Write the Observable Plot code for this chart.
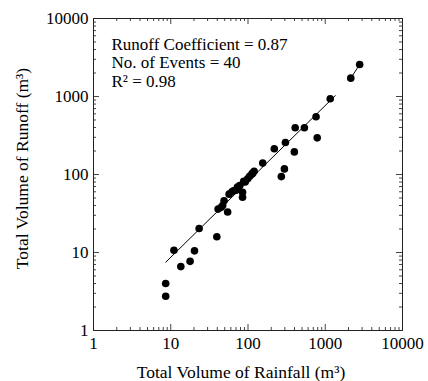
<!DOCTYPE html>
<html><head><meta charset="utf-8">
<script src="https://cdn.jsdelivr.net/npm/d3@7"></script>
<script src="https://cdn.jsdelivr.net/npm/@observablehq/plot@0.6"></script>
<style>
body{margin:0;background:#fff}
svg text, svg tspan{font-family:"Liberation Serif", serif !important;}
</style>
</head><body><div id="chart"></div>
<script>
// Rainfall volume (m³) and runoff volume (m³) per event
const rainfall = [8.6, 8.6, 11, 13.5, 17.8, 20.3, 23.3, 39.5, 41, 45, 47, 49, 54.5, 57, 62, 65, 70, 73, 78, 85, 85, 88, 92, 99, 105, 112, 115, 120, 155, 219, 270, 296, 305, 398, 408, 537, 787, 760, 1160, 2140, 2790];
const runoff   = [4.0, 2.75, 10.7, 6.6, 7.7, 10.5, 20.3, 15.9, 36, 38, 40, 46, 33, 56, 60, 62, 63, 69, 72, 59, 51, 82, 80, 88, 95, 101, 104, 110, 140, 214, 94, 118, 257, 195, 397, 397, 295, 550, 935, 1718, 2570];
// fitted line (two drawn segments)
const fitX1 = [8.6, 1350];
const fitY1 = [7.5, 1025];
const fitX2 = [2140, 2790];
const fitY2 = [1718, 2570];
const majorTicks = [1, 10, 100, 1000, 10000];
const minorSteps = [2, 3, 4, 5, 6, 7, 8, 9];
const minorTicks = majorTicks.slice(0, -1).flatMap(d => minorSteps.map(k => d * k));
const annotation = ["Runoff Coefficient = 0.87", "No. of Events = 40", "R² = 0.98"];
const xLabel = "Total Volume of Rainfall (m³)";
const yLabel = "Total Volume of Runoff (m³)";

const W = 428, H = 381, ML = 93, MR = 26, MT = 18, MB = 51;
const innerW = W - ML - MR, innerH = H - MT - MB;
const major = 6, minor = 3;
const tickStroke = "#444";
const serif = "Liberation Serif";
const chart = Plot.plot({
  width: W, height: H,
  marginLeft: ML, marginRight: MR, marginTop: MT, marginBottom: MB,
  style: {fontFamily: serif, fontSize: "17px", color: "#000", background: "#fff"},
  x: {type: "log", domain: [1, 10000]},
  y: {type: "log", domain: [1, 10000]},
  marks: [
    // tick labels
    Plot.axisX(majorTicks, {anchor: "bottom", tickSize: 0, tickPadding: 6, tickFormat: d => String(d), label: null}),
    Plot.axisY(majorTicks, {anchor: "left", tickSize: 0, tickPadding: 5, tickFormat: d => String(d), label: null}),
    // axis titles
    Plot.text([xLabel], {text: d => d, frameAnchor: "bottom", textAnchor: "middle", lineAnchor: "middle", dx: -7, dy: 42, fontSize: 17.5, fill: "#000"}),
    Plot.text([yLabel], {text: d => d, frameAnchor: "left", rotate: -90, textAnchor: "middle", lineAnchor: "middle", dx: -71, dy: -6, fontSize: 17.5, fill: "#000"}),
    // inward ticks on all four sides
    Plot.tickX(majorTicks, {x: d => d, insetTop: innerH - major, stroke: tickStroke}),
    Plot.tickX(minorTicks, {x: d => d, insetTop: innerH - minor, stroke: tickStroke}),
    Plot.tickX(majorTicks, {x: d => d, insetBottom: innerH - major, stroke: tickStroke}),
    Plot.tickX(minorTicks, {x: d => d, insetBottom: innerH - minor, stroke: tickStroke}),
    Plot.tickY(majorTicks, {y: d => d, insetRight: innerW - major, stroke: tickStroke}),
    Plot.tickY(minorTicks, {y: d => d, insetRight: innerW - minor, stroke: tickStroke}),
    Plot.tickY(majorTicks, {y: d => d, insetLeft: innerW - major, stroke: tickStroke}),
    Plot.tickY(minorTicks, {y: d => d, insetLeft: innerW - minor, stroke: tickStroke}),
    Plot.frame({stroke: "#222", strokeWidth: 1}),
    Plot.line(fitX1, {x: fitX1, y: fitY1, stroke: "#000", strokeWidth: 1}),
    Plot.line(fitX2, {x: fitX2, y: fitY2, stroke: "#000", strokeWidth: 1}),
    Plot.dot(rainfall, {x: rainfall, y: runoff, r: 3.8, fill: "#000", stroke: "none"}),
    Plot.text([annotation.join("\n")], {frameAnchor: "top-left", lineAnchor: "top", textAnchor: "start", dx: 18, dy: 18, lineHeight: 1.1, fontSize: 17, fill: "#000"})
  ]
});
document.getElementById("chart").appendChild(chart);
</script>
</body></html>
